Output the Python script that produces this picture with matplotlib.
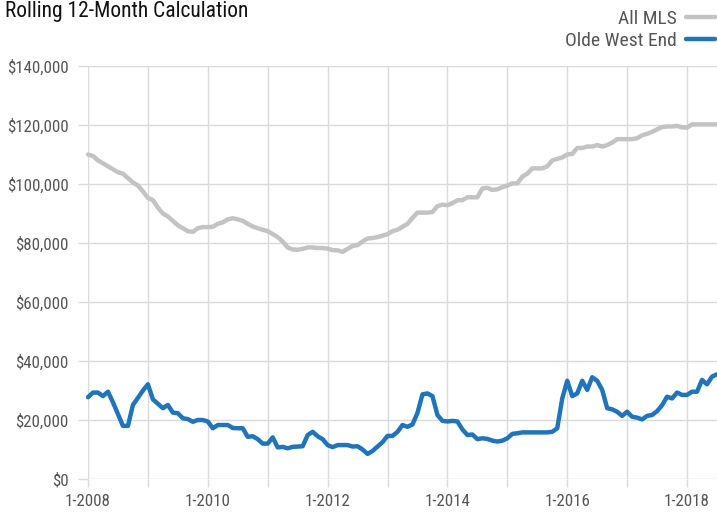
import matplotlib
matplotlib.use("Agg")
import matplotlib.pyplot as plt
import numpy as np
from matplotlib.ticker import FuncFormatter, MultipleLocator

plt.rcParams['font.family'] = ['Roboto Condensed', 'DejaVu Sans']

# Months since 1-2008 (monthly, 1-2008 .. 7-2018)
all_mls = [
    110.0, 109.5, 108.0, 107.0, 106.0, 105.0, 104.0, 103.5, 102.0, 100.5, 99.5, 97.5,
    95.3, 94.5, 92.0, 90.0, 89.0, 87.5, 86.0, 85.0, 84.0, 83.8, 85.0, 85.4,
    85.4, 85.5, 86.5, 87.0, 88.0, 88.4, 88.0, 87.5, 86.5, 85.6, 85.0, 84.5,
    84.0, 83.0, 82.0, 80.5, 78.5, 77.8, 77.7, 78.0, 78.5, 78.5, 78.3, 78.3,
    78.1, 77.6, 77.5, 77.0, 78.0, 79.0, 79.3, 80.5, 81.5, 81.7, 82.0, 82.5,
    83.0, 84.0, 84.5, 85.5, 86.5, 88.5, 90.3, 90.3, 90.3, 90.5, 92.5, 93.0,
    92.8, 93.5, 94.5, 94.5, 95.5, 95.5, 95.5, 98.5, 98.7, 98.0, 98.2, 98.9,
    99.5, 100.2, 100.2, 102.5, 103.5, 105.3, 105.3, 105.3, 106.0, 108.0, 108.5, 109.0,
    110.0, 110.2, 112.2, 112.2, 112.7, 112.7, 113.2, 112.7, 113.2, 114.0, 115.2, 115.2,
    115.2, 115.2, 115.5, 116.5, 117.0, 117.7, 118.5, 119.3, 119.5, 119.5, 119.7, 119.2,
    119.1, 120.2, 120.2, 120.2, 120.2, 120.2, 120.2,
]
olde_west_end = [
    27.7, 29.3, 29.3, 28.1, 29.6, 26.0, 22.0, 18.0, 18.0, 25.1, 27.5, 30.0,
    32.1, 27.0, 25.5, 24.0, 25.1, 22.5, 22.3, 20.6, 20.3, 19.4, 20.0, 20.0,
    19.5, 17.2, 18.3, 18.3, 18.3, 17.3, 17.2, 17.2, 14.3, 14.5, 13.5, 12.0,
    12.0, 14.1, 10.7, 10.9, 10.4, 10.9, 11.0, 11.1, 14.9, 16.0, 14.5, 13.5,
    11.5, 10.8, 11.5, 11.5, 11.5, 11.0, 11.1, 10.0, 8.5, 9.5, 11.0, 12.5,
    14.6, 14.6, 16.0, 18.3, 17.7, 18.5, 22.4, 28.7, 29.0, 28.1, 21.7, 19.7,
    19.5, 19.7, 19.5, 16.8, 14.9, 15.1, 13.5, 13.8, 13.6, 13.0, 12.7, 13.0,
    13.8, 15.3, 15.5, 15.8, 15.8, 15.8, 15.8, 15.8, 15.8, 16.0, 17.2, 27.3,
    33.3, 28.1, 29.0, 33.3, 30.2, 34.5, 33.3, 30.2, 24.0, 23.6, 22.8, 21.4,
    22.8, 21.1, 20.8, 20.2, 21.4, 21.7, 23.0, 25.0, 27.9, 27.3, 29.3, 28.5,
    28.5, 29.6, 29.6, 33.6, 32.1, 34.7, 35.5,
]
series_labels = ["All MLS", "Olde West End"]
x_tick_labels = ["1-2008", "1-2010", "1-2012", "1-2014", "1-2016", "1-2018"]
title = "Rolling 12-Month Calculation"

months = np.arange(len(all_mls))
mls_vals = np.array(all_mls) * 1000
owe_vals = np.array(olde_west_end) * 1000

fig = plt.figure(figsize=(7.17, 5.14), dpi=100)
ax = fig.add_axes([88/717, 1 - 479/514, 1 - 88/717, (479 - 66)/514])

grid_c = "#dadada"
ax.set_xlim(0, len(all_mls) - 1)
ax.set_ylim(0, 140000)
ax.xaxis.set_major_locator(MultipleLocator(12))
ax.yaxis.set_major_locator(MultipleLocator(20000))
ax.grid(True, color=grid_c, linewidth=1.0)
ax.set_axisbelow(True)
for s in ax.spines.values():
    s.set_visible(False)

label_map = {i * 24: lab for i, lab in enumerate(x_tick_labels)}
ax.xaxis.set_major_formatter(FuncFormatter(lambda v, p: label_map.get(int(round(v)), "")))
ax.yaxis.set_major_formatter(FuncFormatter(lambda v, p: "${:,.0f}".format(v)))
ax.tick_params(axis='both', colors=grid_c, width=1.0, length=6, labelcolor="#555555", labelsize=12.2)
ax.tick_params(axis='y', length=7, pad=7)
ax.tick_params(axis='x', pad=5)

l1, = ax.plot(months, mls_vals, color="#c3c3c3", linewidth=3.2, solid_capstyle='round', solid_joinstyle='round', clip_on=False)
l2, = ax.plot(months, owe_vals, color="#1f74bb", linewidth=3.2, solid_capstyle='round', solid_joinstyle='round', clip_on=False)

fig.text(5/717, 1 - 17/514, title, fontsize=15.5, color="#111111", ha='left', va='baseline')

fig.legend([l1, l2], series_labels, loc='upper right', bbox_to_anchor=(1.0, 1 - 8/514),
           frameon=False, markerfirst=False, handlelength=1.5, handletextpad=0.45,
           labelspacing=0.2, fontsize=14, labelcolor="#555555", borderaxespad=0.0,
           borderpad=0.1)

fig.savefig("out.png", dpi=100)
